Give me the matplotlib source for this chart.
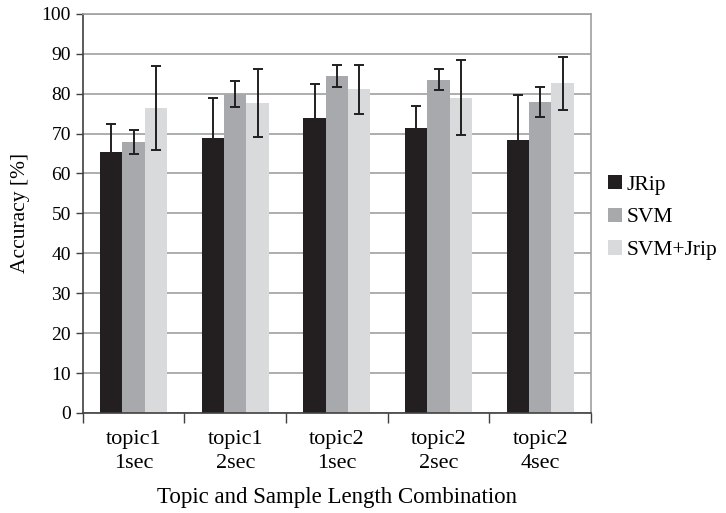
import numpy as np
import matplotlib.pyplot as plt

plt.rcParams['font.family'] = ['Liberation Serif', 'DejaVu Serif']

groups = ['topic1\n1sec', 'topic1\n2sec', 'topic2\n1sec', 'topic2\n2sec', 'topic2\n4sec']
series = ['JRip', 'SVM', 'SVM+Jrip']
jrip = [65.3, 68.8, 74.0, 71.5, 68.3]
jrip_err = [7.0, 10.0, 8.3, 5.5, 11.3]
svm = [67.8, 80.0, 84.4, 83.5, 77.9]
svm_err = [3.0, 3.3, 2.8, 2.7, 3.7]
combo = [76.4, 77.6, 81.1, 79.0, 82.6]
combo_err = [10.6, 8.5, 6.2, 9.4, 6.6]
colors = ['#231f20', '#a7a9ac', '#d9dadb']

fig = plt.figure(figsize=(7.26, 5.13), dpi=100)
ax = fig.add_axes([0.114, 0.195, 0.7, 0.778])

x = np.arange(len(groups))
w = 0.22
for i, (vals, errs) in enumerate([(jrip, jrip_err), (svm, svm_err), (combo, combo_err)]):
    ax.bar(x + (i - 1) * w, vals, w, color=colors[i], label=series[i], zorder=2)
    ax.errorbar(x + (i - 1) * w, vals, yerr=errs, fmt='none', ecolor='#231f20',
                elinewidth=1.4, capsize=3.5, capthick=1.4, zorder=3)

ax.set_ylim(0, 100)
ax.set_xlim(-0.5, len(groups) - 0.5)
ax.set_yticks(np.arange(0, 101, 10))
ax.yaxis.grid(True, color='#a0a0a0', linewidth=1.2, zorder=0)
ax.set_axisbelow(True)

ax.set_xticks(x)
ax.set_xticklabels(groups, linespacing=1.4)
ax.tick_params(axis='x', which='major', length=0, pad=12, labelsize=16)
ax.set_xticks(np.arange(-0.5, len(groups), 1), minor=True)
ax.tick_params(axis='x', which='minor', length=7, width=1, color='#404040')
ax.tick_params(axis='y', length=5, width=1, color='#404040', labelsize=14)

for s in ['top', 'right']:
    ax.spines[s].set_color('#a0a0a0')
    ax.spines[s].set_linewidth(1.2)
for s in ['left', 'bottom']:
    ax.spines[s].set_color('#404040')
    ax.spines[s].set_linewidth(1.2)

ax.set_ylabel('Accuracy [%]', fontsize=15.5, labelpad=8)
ax.set_xlabel('Topic and Sample Length Combination', fontsize=16.5, labelpad=10)

ax.legend(loc='center left', bbox_to_anchor=(1.0, 0.49), frameon=False, fontsize=15.5,
          handlelength=0.65, handleheight=0.65, handletextpad=0.2, labelspacing=0.6,
          borderaxespad=0.4)

fig.savefig('out.png', dpi=100)
